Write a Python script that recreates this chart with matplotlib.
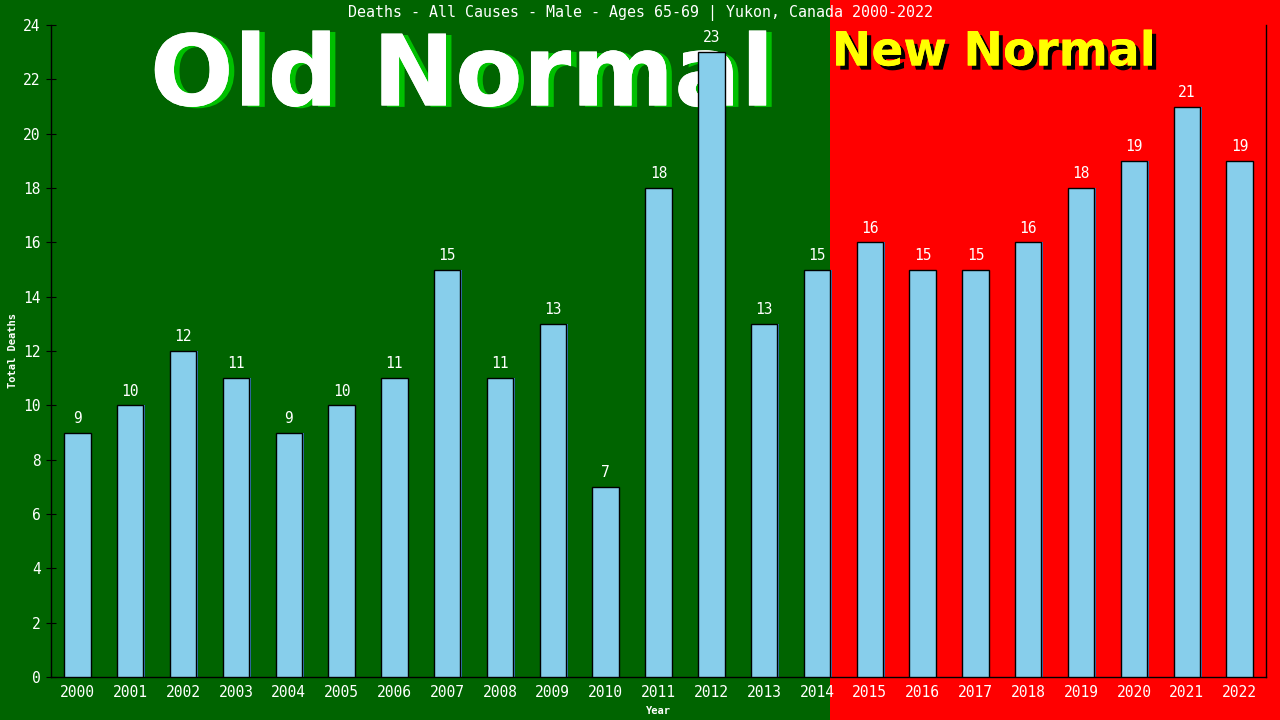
import matplotlib.pyplot as plt
import matplotlib.patheffects as pe
from matplotlib.patches import Rectangle
from matplotlib import transforms
import numpy as np


years = [str(y) for y in range(2000, 2023)]
deaths = [9, 10, 12, 11, 9, 10, 11, 15, 11, 13, 7, 18, 23, 13, 15, 16, 15, 15, 16, 18, 19, 21, 19]
split_index = 14  # last "old normal" year (2014)

title = "Deaths - All Causes - Male - Ages 65-69 | Yukon, Canada 2000-2022"

green = "#006400"
red = "#ff0000"
bar_col = "#87ceeb"
mono = "DejaVu Sans Mono"

fig = plt.figure(figsize=(12.8, 7.2), dpi=100, facecolor=green)
ax = fig.add_axes([51 / 1280, 43 / 720, 1215 / 1280, 652 / 720])
ax.set_facecolor("none")

x = np.arange(len(years))
w = 0.5

# red background from the right edge of 2014 bar to the figure edge
tr = transforms.blended_transform_factory(ax.transData, fig.transFigure)
fig.add_artist(Rectangle((split_index + w / 2, 0), 40, 1, transform=tr,
                         facecolor=red, edgecolor="none", zorder=-5))

# big labels sit behind the bars
ax.text(462 / 1280, 1 - 78 / 720, "Old Normal", ha="center", va="center",
        color="white", fontsize=71, fontweight="bold", family="DejaVu Sans",
        transform=fig.transFigure, zorder=1,
        path_effects=[pe.withSimplePatchShadow(offset=(4, -1), shadow_rgbFace="#00c000", alpha=1),
                      pe.Normal()])

ax.text(994 / 1280, 1 - 53 / 720, "New Normal", ha="center", va="center",
        color="yellow", fontsize=34, fontweight="bold", family="DejaVu Sans",
        transform=fig.transFigure, zorder=1,
        path_effects=[pe.withSimplePatchShadow(offset=(3, -3), shadow_rgbFace="black", alpha=1),
                      pe.Normal()])

# shadow bars, then main bars
ax.bar(x + 0.03, deaths, width=w, color="#3a7fc0", zorder=2)
ax.bar(x, deaths, width=w, color=bar_col, edgecolor="black", linewidth=1, zorder=3)

for xi, d in zip(x, deaths):
    ax.text(xi, d + 0.25, str(d), ha="center", va="bottom", color="white",
            fontsize=10.5, family=mono, zorder=4)

ax.set_xlim(-0.5, len(years) - 0.5)
ax.set_ylim(0, 24)
ax.set_xticks(x)
ax.set_xticklabels(years)
ax.set_yticks(range(0, 25, 2))

for lab in ax.get_xticklabels() + ax.get_yticklabels():
    lab.set_family(mono)
    lab.set_fontsize(10.5)
    lab.set_color("white")

ax.tick_params(axis="x", length=0, pad=6)
ax.tick_params(axis="y", direction="inout", length=7, color="black", pad=4)

for s in ["left", "bottom", "right"]:
    ax.spines[s].set_color("black")
    ax.spines[s].set_linewidth(1)
ax.spines["top"].set_visible(False)

ax.set_xlabel("Year", color="white", fontsize=7.5, family=mono, fontweight="bold", labelpad=4)
ax.set_ylabel("Total Deaths", color="white", fontsize=7.5, family=mono, fontweight="bold", labelpad=4)

fig.text(640 / 1280, 1 - 13 / 720, title, ha="center", va="center", color="white",
         fontsize=10.8, family=mono)

fig.savefig("out.png", dpi=100, facecolor=fig.get_facecolor())
